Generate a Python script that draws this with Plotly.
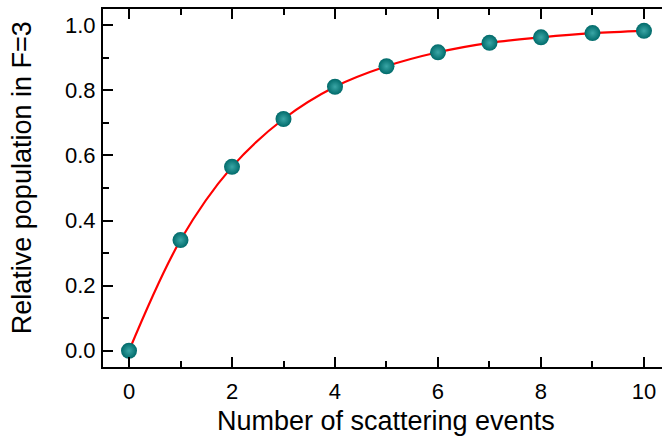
import plotly.graph_objects as go

events = [0, 1, 2, 3, 4, 5, 6, 7, 8, 9, 10]
population = [0.0, 0.340, 0.565, 0.712, 0.811, 0.874, 0.917, 0.946, 0.963, 0.976, 0.983]

x_ticks = [0, 2, 4, 6, 8, 10]
y_ticks = [0.0, 0.2, 0.4, 0.6, 0.8, 1.0]
y_tick_text = ["0.0", "0.2", "0.4", "0.6", "0.8", "1.0"]

FONT = "Arial, Liberation Sans, sans-serif"

fig = go.Figure()
fig.add_trace(go.Scatter(
    x=events, y=population, mode="lines",
    line=dict(color="#ff0000", width=2.2, shape="spline", smoothing=1.0),
    hoverinfo="skip", showlegend=False,
))
fig.add_trace(go.Scatter(
    x=events, y=population, mode="markers",
    marker=dict(size=16, color="#006a6a",
                gradient=dict(type="radial", color="#3aa6a6"),
                line=dict(width=0)),
    showlegend=False,
))

axis_common = dict(
    showgrid=False, zeroline=False,
    linecolor="black", linewidth=2,
    ticks="inside", tickcolor="black", tickwidth=2, ticklen=10,
    tickfont=dict(family=FONT, size=22, color="black"),
)

fig.update_layout(
    width=663, height=436,
    margin=dict(l=103, r=1, t=9, b=69),
    paper_bgcolor="white", plot_bgcolor="white",
    font=dict(family=FONT, color="black"),
    xaxis=dict(
        range=[-0.505, 10.35], tickvals=x_ticks, showline=True, mirror="ticks",
        minor=dict(dtick=1, tick0=0, ticks="inside", ticklen=6, tickwidth=2, tickcolor="black"),
        ticklabelstandoff=4,
        **axis_common,
    ),
    yaxis=dict(
        range=[-0.05, 1.05], tickvals=y_ticks, ticktext=y_tick_text, showline=True, mirror=False,
        minor=dict(dtick=0.1, tick0=0, ticks="inside", ticklen=6, tickwidth=2, tickcolor="black"),
        ticklabelstandoff=1,
        **axis_common,
    ),
    yaxis2=dict(
        overlaying="y", side="right", anchor="x",
        range=[-0.05, 1.05], tickvals=y_ticks, showticklabels=False, showline=False,
        showgrid=False, zeroline=False,
        ticks="inside", tickcolor="black", tickwidth=2, ticklen=10,
        minor=dict(dtick=0.1, tick0=0, ticks="inside", ticklen=6, tickwidth=2, tickcolor="black"),
    ),
    annotations=[
        dict(text="Number of scattering events", xref="paper", yref="paper",
             x=0.507, y=-0.151, xanchor="center", yanchor="middle", showarrow=False,
             font=dict(family=FONT, size=27, color="black")),
        dict(text="Relative population in F=3", xref="paper", yref="paper",
             x=-0.145, y=0.53, xanchor="center", yanchor="middle", showarrow=False, textangle=-90,
             font=dict(family=FONT, size=27, color="black")),
    ],
)

fig.write_html("out.html", config={"displayModeBar": False},
               post_script="document.body.style.margin='0px';document.body.style.overflow='hidden';")
